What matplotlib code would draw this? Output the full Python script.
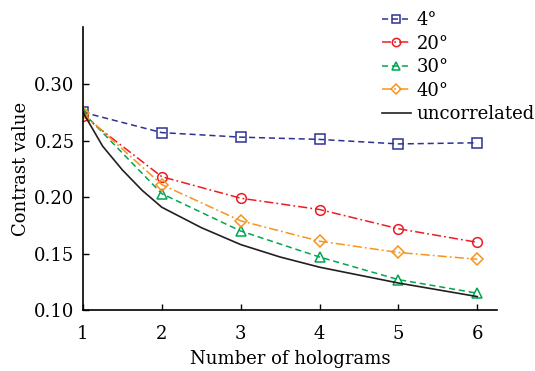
import matplotlib
matplotlib.use("Agg")
import matplotlib.pyplot as plt

holograms = [1, 2, 3, 4, 5, 6]
c4 = [0.275, 0.257, 0.253, 0.251, 0.247, 0.248]
c20 = [0.272, 0.218, 0.199, 0.189, 0.172, 0.160]
c30 = [0.275, 0.203, 0.170, 0.147, 0.127, 0.115]
c40 = [0.274, 0.211, 0.179, 0.161, 0.151, 0.145]
unc_x = [1, 1.25, 1.5, 1.75, 2, 2.5, 3, 3.5, 4, 4.5, 5, 5.5, 6]
unc_y = [0.275, 0.245, 0.224, 0.206, 0.191, 0.173, 0.158, 0.147, 0.138, 0.131, 0.124, 0.118, 0.112]
labels = ["4°", "20°", "30°", "40°", "uncorrelated"]
yticks = [0.10, 0.15, 0.20, 0.25, 0.30]

plt.rcParams['font.family'] = ['DejaVu Serif']
fig = plt.figure(figsize=(5.35, 3.71), dpi=100)
ax = fig.add_axes([0.155, 0.164, 0.774, 0.762])

ms = 7
ax.plot(holograms, c4, linestyle=(0, (4, 2.5)), color='#2e3192', marker='s', ms=ms,
        mfc='none', mew=1.1, lw=1.1, label=labels[0])
ax.plot(holograms, c20, linestyle=(0, (6, 2, 1.2, 2)), color='#ed1c24', marker='o', ms=ms,
        mfc='none', mew=1.1, lw=1.1, label=labels[1])
ax.plot(holograms, c30, linestyle=(0, (4, 2.5)), color='#00a651', marker='^', ms=ms,
        mfc='none', mew=1.1, lw=1.1, label=labels[2])
ax.plot(holograms, c40, linestyle=(0, (6, 2, 1.2, 2)), color='#f7941d', marker='D', ms=6.5,
        mfc='none', mew=1.1, lw=1.1, label=labels[3])
ax.plot(unc_x, unc_y, '-', color='#231f20', lw=1.2, label=labels[4])

ax.set_xlim(1, 6.25)
ax.set_ylim(0.10, 0.35)
ax.set_xticks(holograms)
ax.set_yticks(yticks)
ax.set_yticklabels([f"{v:.2f}" for v in yticks])
ax.spines['top'].set_visible(False)
ax.spines['right'].set_visible(False)
for s in ['left', 'bottom']:
    ax.spines[s].set_linewidth(1.2)
ax.tick_params(direction='in', length=4, width=1, labelsize=13)
ax.tick_params(axis='y', pad=6)
ax.tick_params(axis='x', pad=11)
ax.set_xlabel("Number of holograms", fontsize=13, labelpad=5)
ax.set_ylabel("Contrast value", fontsize=13, labelpad=3)

leg = ax.legend(loc='upper left', bbox_to_anchor=(0.722, 1.057), frameon=False,
                fontsize=13, handlelength=1.6, handletextpad=0.33, labelspacing=0.3,
                borderaxespad=0, borderpad=0, markerscale=0.85)

fig.savefig("out.png", dpi=100)
